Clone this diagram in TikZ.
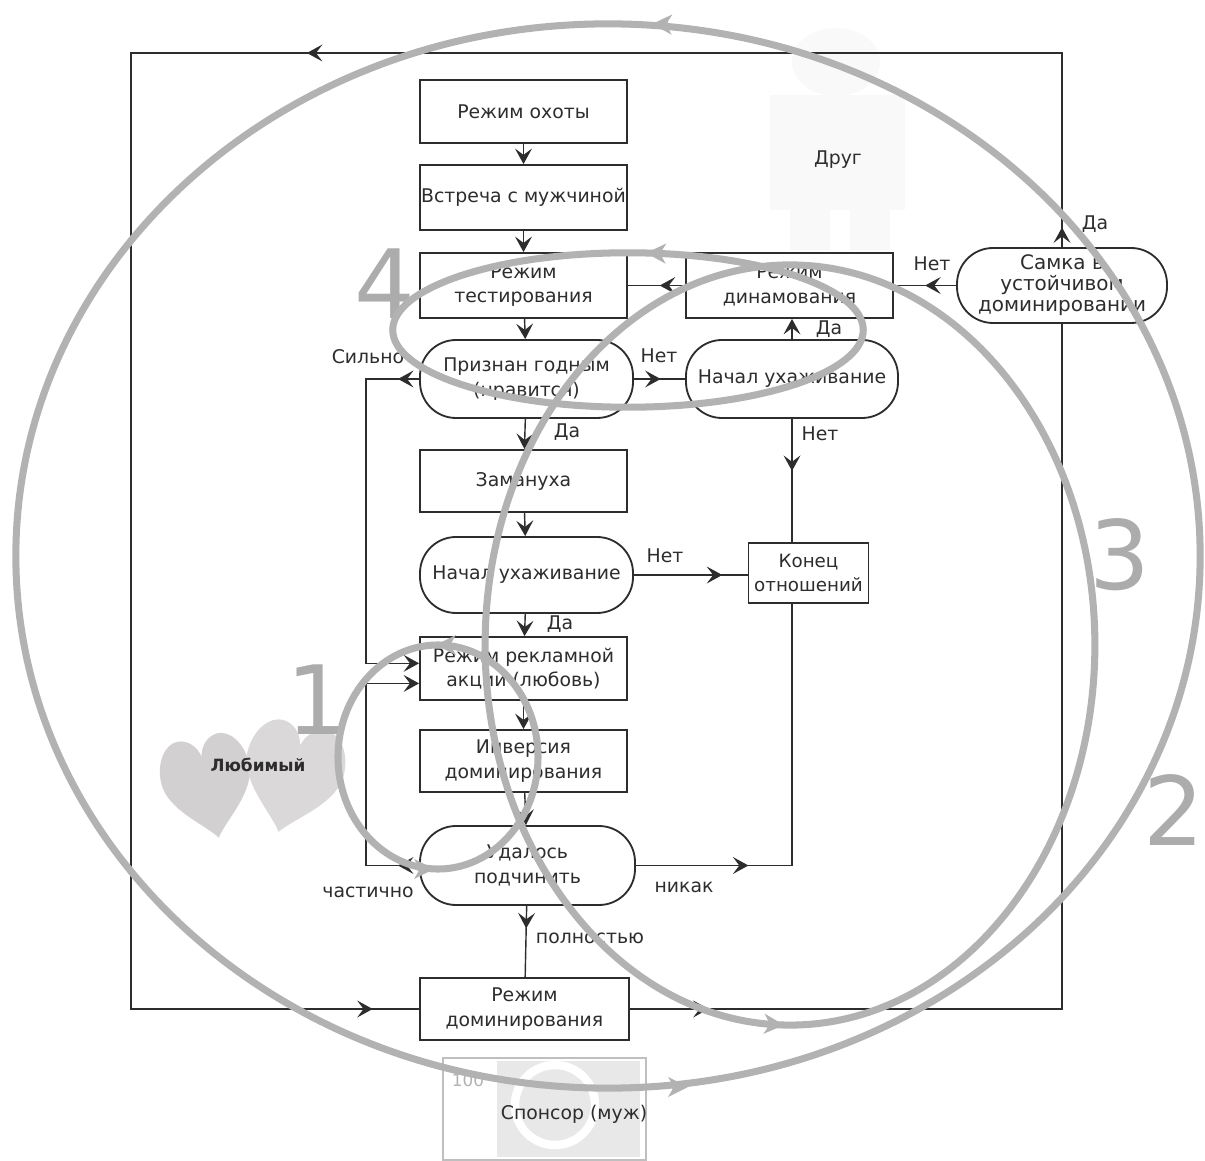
\documentclass[tikz,border=0pt]{standalone}
\usepackage{fontspec}
\setmainfont{DejaVu Sans}
\usetikzlibrary{arrows.meta,decorations.markings,calc}
\definecolor{ink}{RGB}{45,45,45}
\definecolor{ringc}{RGB}{178,178,178}
\definecolor{digitc}{RGB}{172,172,172}
\definecolor{heartc}{RGB}{210,208,208}
\definecolor{heartd}{RGB}{218,216,216}
\begin{document}
\begin{tikzpicture}[x=0.025cm,y=-0.025cm,
  font=\fontsize{13.4}{17.5}\selectfont,
  box/.style={draw=ink,line width=1.3pt,fill=white,align=center,inner sep=1pt,text=ink},
  rbox/.style={box,rounded corners=0.9cm},
  sz/.style 2 args={minimum width=#1*0.025cm,minimum height=#2*0.025cm},
  conn/.style={draw=ink,line width=1pt},
  endtip/.style={-{Stealth[length=11pt,width=12pt,inset=4.5pt]}},
  arr/.style={postaction={decorate,decoration={markings,mark=at position #1 with {\arrow{Stealth[length=11pt,width=12pt,inset=4.5pt]}}}}},
  lbl/.style={text=ink,inner sep=1pt},
  bigdigit/.style={text=digitc,inner sep=0pt,font=\fontsize{68}{68}\selectfont},
  ring/.style={draw=ringc,line width=5pt,line join=round},
  ringtip/.style={draw=ringc,line width=3pt,-{Stealth[length=14pt,width=14pt,inset=4pt]}},
]
\useasboundingbox (0,0) rectangle (1205,1161);
\fill[white] (0,0) rectangle (1205,1161);

% faint pictures
\fill[black!2.5] (836,62) ellipse [x radius=1.1cm, y radius=0.85cm];
\fill[black!2.5] (770,95) rectangle (905,210);
\fill[black!2.5] (790,210) rectangle (830,250);
\fill[black!2.5] (850,210) rectangle (890,250);
\begin{scope}[shift={(208,787)},rotate=12,yscale=1.15]
\fill[heartc] (0,45) .. controls (-10,32) and (-45,12) .. (-45,-12) .. controls (-45,-32) and (-32,-44) .. (-21,-44) .. controls (-10,-44) and (-2,-36) .. (0,-27) .. controls (2,-36) and (10,-44) .. (21,-44) .. controls (32,-44) and (45,-32) .. (45,-12) .. controls (45,12) and (10,32) .. (0,45) -- cycle;
\end{scope}
\begin{scope}[shift={(292,778)},rotate=-14,scale=1.1,yscale=1.12]
\fill[heartd] (0,45) .. controls (-10,32) and (-45,12) .. (-45,-12) .. controls (-45,-32) and (-32,-44) .. (-21,-44) .. controls (-10,-44) and (-2,-36) .. (0,-27) .. controls (2,-36) and (10,-44) .. (21,-44) .. controls (32,-44) and (45,-32) .. (45,-12) .. controls (45,12) and (10,32) .. (0,45) -- cycle;
\end{scope}

% sponsor picture
\node[draw=black!25,line width=1pt,sz={203}{102}] (sponsor) at (544.5,1109) {};
\fill[black!9] (497,1061) rectangle (640,1157);
\draw[white,line width=6pt] (555,1105) circle [radius=1cm];
\node[text=black!30,font=\fontsize{12}{12}\selectfont] (hundred) at (468,1080) {100};
\node[lbl] (sponsortext) at (574,1114) {Спонсор (муж)};

% flowchart nodes
\node[box,sz={207}{63}] (ohota) at (523.5,111.5) {Режим охоты};
\node[box,sz={207}{65}] (vstrecha) at (523.5,197.5) {\makebox[0pt]{Встреча с мужчиной}};
\node[box,sz={207}{65}] (test) at (523.5,285.5) {Режим\\тестирования};
\node[box,sz={207}{65}] (dinamo) at (789.5,285.5) {Режим\\динамования};
\node[rbox,sz={213}{78}] (godnym) at (526.5,379) {Признан годным\\(нравится)};
\node[rbox,sz={212}{78}] (uhaz1) at (792,379) {Начал ухаживание};
\node[box,sz={207}{62}] (zamanuha) at (523.5,481) {Замануха};
\node[rbox,sz={213}{76}] (uhaz2) at (526.5,575) {Начал ухаживание};
\node[box,sz={120}{60},font=\fontsize{13}{16.5}\selectfont] (konec) at (808.5,573) {Конец\\отношений};
\node[box,sz={207}{63}] (reklama) at (523.5,668.5) {Режим рекламной\\акции (любовь)};
\node[box,sz={207}{62}] (inversia) at (523.5,761) {Инверсия\\доминирования};
\node[rbox,sz={215}{79}] (udalos) at (527.5,865.5) {Удалось\\подчинить};
\node[box,sz={209}{62}] (dominirovanie) at (524.5,1009) {Режим\\доминирования};
\node[rbox,sz={210}{75},font=\fontsize{14.2}{15}\selectfont] (samka) at (1062,285.5) {Самка в\\устойчивом\\доминировании};

\coordinate (tr) at (1062,53);
\coordinate (tl) at (131,53);
\coordinate (bl) at (131,1009);
\coordinate (br) at (1062,1009);
\coordinate (rkin1) at ($(reklama.north west)!0.42!(reklama.south west)$);
\coordinate (rkin2) at ($(reklama.north west)!0.73!(reklama.south west)$);

% connectors
\draw[conn,endtip] (ohota) -- (vstrecha);
\draw[conn,endtip] (vstrecha) -- (test);
\draw[conn,endtip] (test) -- (godnym);
\draw[conn,arr=18pt] (dinamo.west) -- (test.east);
\draw[conn,arr=22pt] (samka.west) -- (samka.west -| dinamo.east);
\draw[conn,endtip] (uhaz1.north) -- (uhaz1.north |- dinamo.south);
\draw[conn,arr=19pt] (godnym.east) -- (uhaz1.west);
\draw[conn,endtip] (godnym) -- (zamanuha);
\draw[conn,arr=15pt,endtip] (godnym.west) -- ++(-53,0) |- (rkin1);
\draw[conn,endtip] (zamanuha) -- (uhaz2);
\draw[conn,endtip] (uhaz2) -- (reklama);
\draw[conn,arr=-18pt] (uhaz2.east) -- (uhaz2.east -| konec.west);
\draw[conn,arr=37pt] (uhaz1.south) -- (uhaz1.south |- konec.north);
\draw[conn,arr=80pt] (udalos.east) -| (uhaz1.south |- konec.south);
\draw[conn,endtip] (reklama) -- (inversia);
\draw[conn,endtip] (inversia) -- (udalos);
\draw[conn,arr=15pt,endtip] (udalos.west) -- ++(-53,0) |- (rkin2);
\draw[conn,arr=16pt] (udalos) -- (dominirovanie);
\draw[conn,arr=14pt,arr=675pt,arr=-33pt] (samka.north) -- (tr) -- (tl) -- (bl) -- (dominirovanie.west);
\draw[conn,arr=56pt] (dominirovanie.east) -- (br) -- (samka.south);

% labels
\node[lbl] (lda1) at (1095,224) {Да};
\node[lbl] (lnet1) at (932,264) {Нет};
\node[lbl] (lda2) at (829,329) {Да};
\node[lbl] (lnet2) at (659,356) {Нет};
\node[lbl] (lsilno) at (368,357) {Сильно};
\node[lbl] (lda3) at (567,432) {Да};
\node[lbl] (lnet3) at (820,434) {Нет};
\node[lbl] (lnet4) at (665,556) {Нет};
\node[lbl] (lda4) at (560,624) {Да};
\node[lbl] (lchast) at (368,892) {частично};
\node[lbl] (lnikak) at (684,887) {никак};
\node[lbl] (lpoln) at (590,938) {полностью};
\node[lbl] (drug) at (838,160) {Друг};
\node[lbl,font=\bfseries\fontsize{12}{14}\selectfont] (lubimy) at (258,765) {Любимый};

% big digits
\node[bigdigit] (d4) at (385,284) {4};
\node[bigdigit] (d1) at (317,700) {1};
\node[bigdigit] (d3) at (1120,555) {3};
\node[bigdigit] (d2) at (1174,810) {2};

% rings
\draw[ring] (608,556) ellipse [x radius=14.8cm, y radius=13.3cm];
\draw[ring] (790,645) ellipse [x radius=7.62cm, y radius=9.5cm];
\draw[ring] (628,330) ellipse [x radius=5.88cm, y radius=1.93cm];
\draw[ring] (438,757) ellipse [x radius=2.5cm, y radius=2.8cm];

\draw[ringtip] (668,24.5) -- (652,24);
\draw[ringtip] (672,1087) -- (688,1087);
\draw[ringtip] (768,1024) -- (784,1025);
\draw[ringtip] (452,645) -- (436,645);
\draw[ringtip] (418,869) -- (434,869);
\draw[ringtip] (662,253.5) -- (646,253);
\end{tikzpicture}
\end{document}
